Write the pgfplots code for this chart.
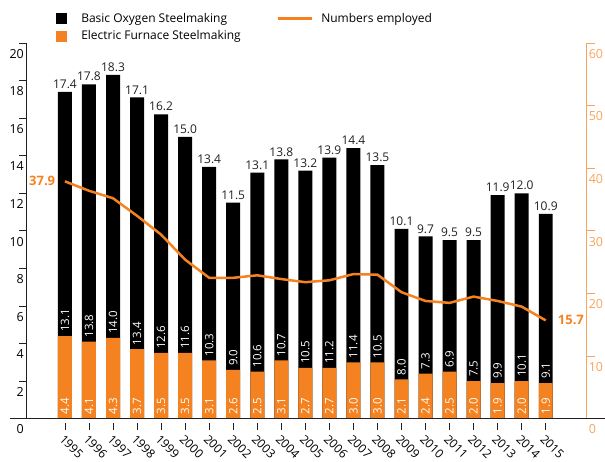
\documentclass[border=0pt]{standalone}
\usepackage{fontspec}
\setmainfont{Open Sans}
\usepackage{pgfplots}
\usepackage{pgfplotstable}
\pgfplotsset{compat=1.18}
\definecolor{torange}{HTML}{F58220}
\definecolor{taxis}{HTML}{F7A35C}
\definecolor{txt}{HTML}{231F20}
\pgfplotstableread{
year eaf bos total emp
1995 4.4 13.1 17.4 37.9
1996 4.1 13.8 17.8 36.4
1997 4.3 14.0 18.3 35.2
1998 3.7 13.4 17.1 32.4
1999 3.5 12.6 16.2 29.4
2000 3.5 11.6 15.0 25.4
2001 3.1 10.3 13.4 22.5
2002 2.6 9.0 11.5 22.5
2003 2.5 10.6 13.1 22.9
2004 3.1 10.7 13.8 22.3
2005 2.7 10.5 13.2 21.8
2006 2.7 11.2 13.9 22.1
2007 3.0 11.4 14.4 23.1
2008 3.0 10.5 13.5 23.0
2009 2.1 8.0 10.1 20.2
2010 2.4 7.3 9.7 18.8
2011 2.5 6.9 9.5 18.5
2012 2.0 7.5 9.5 19.5
2013 1.9 9.9 11.9 18.8
2014 2.0 10.1 12.0 17.9
2015 1.9 9.1 10.9 15.7
}\data
\begin{document}
\begin{tikzpicture}[font=\color{txt}]
\pgfplotsset{
  every axis/.append style={
    scale only axis, width=561pt, height=376pt,
    xmin=1993.38, xmax=2016.70,
    /pgf/number format/assume math mode=true,
    tick align=outside, major tick length=8pt,
  },
}
\begin{axis}[
  axis x line*=bottom, axis y line*=left,
  ymin=0, ymax=20, ytick={0,2,...,20},
  yticklabels={0,2,4,6,8,10,12,14,16,18,20},
  y axis line style={txt, line width=0.8pt},
  x axis line style={draw=none},
  ytick style={txt, line width=0.8pt},
  yticklabel style={font=\fontsize{12.5}{12.5}\selectfont, anchor=north east, inner sep=0pt, xshift=5pt, yshift=-6pt},
  xtick={1995,...,2015},
  xticklabels={1995,1996,1997,1998,1999,2000,2001,2002,2003,2004,2005,2006,2007,2008,2009,2010,2011,2012,2013,2014,2015},
  xtick style={txt, line width=0.8pt, yshift=-4pt},
  major tick length=7pt,
  xticklabel style={font=\fontsize{12}{12}\selectfont, inner sep=0pt, anchor=north west, xshift=0pt, yshift=-8pt, rotate=-45},
  legend columns=2,
  legend style={at={(0.053,1.085)}, anchor=north west, draw=none, fill=none,
    font=\fontsize{12}{12}\selectfont, row sep=3pt, inner sep=0pt,
    /tikz/every even column/.append style={column sep=34pt}},
  legend cell align=left,
]
\addlegendimage{legend image code/.code={\fill[black] (0pt,-5pt) rectangle (10pt,5pt);}}
\addlegendentry{\hspace{13pt}Basic Oxygen Steelmaking}
\addlegendimage{legend image code/.code={\draw[torange, line width=2.5pt] (0pt,0pt) -- (34pt,0pt);}}
\addlegendentry{\hspace{6pt}Numbers employed}
\addlegendimage{legend image code/.code={\fill[torange] (0pt,-5pt) rectangle (10pt,5pt);}}
\addlegendentry{\hspace{13pt}Electric Furnace Steelmaking}
% black bars (total)
\addplot[ybar, bar width=14pt, bar shift=0pt, fill=black, draw=none,
  nodes near coords={\pgfplotspointmeta}, point meta=explicit symbolic,
  nodes near coords style={font=\fontsize{12}{12}\selectfont, txt, inner sep=2pt, anchor=south, yshift=1pt}]
  table[x=year, y=total, meta=total] {\data};
% orange bars (EAF)
\addplot[ybar, bar width=14pt, bar shift=0pt, fill=torange, draw=none]
  table[x=year, y=eaf] {\data};
% EAF labels
\addplot[draw=none, mark=none, nodes near coords={\pgfplotspointmeta}, point meta=explicit symbolic,
  nodes near coords style={font=\fontsize{11.5}{11.5}\selectfont, white, rotate=90, anchor=west, inner sep=0pt, xshift=4pt}]
  table[x=year, y expr=0, meta=eaf] {\data};
% BOS labels
\addplot[draw=none, mark=none, nodes near coords={\pgfplotspointmeta}, point meta=explicit symbolic,
  nodes near coords style={font=\fontsize{11.5}{11.5}\selectfont, white, rotate=90, anchor=west, inner sep=0pt, xshift=4pt}]
  table[x=year, y=eaf, meta=bos] {\data};
\end{axis}
\begin{axis}[
  axis x line=none, axis y line*=right,
  ymin=0, ymax=60, ytick={0,10,...,60},
  yticklabels={0,10,20,30,40,50,60},
  y axis line style={taxis, line width=0.8pt},
  ytick style={taxis, line width=0.8pt},
  yticklabel style={font=\fontsize{12.5}{12.5}\selectfont, taxis, anchor=north west, inner sep=0pt, xshift=-6pt, yshift=-6pt},
]
\addplot[torange, line width=2.5pt] table[x=year, y=emp] {\data};
\coordinate (p95) at (axis cs:1995,37.9);
\coordinate (p15) at (axis cs:2015,15.7);
\end{axis}
\node[anchor=west, torange, font=\bfseries\fontsize{13}{13}\selectfont, inner sep=0pt] at ([xshift=3pt]current axis.south west |- p95) {37.9};
\node[anchor=west, torange, font=\bfseries\fontsize{13}{13}\selectfont, inner sep=0pt] at ([xshift=12pt]p15) {15.7};
\draw[txt, line width=0.8pt] (current axis.south west) ++(-16pt,0) -- ++(595pt,0);
\path[use as bounding box] (current axis.south west) ++(-26pt,-43pt) rectangle ++(605pt,462pt);
\end{tikzpicture}
\end{document}
